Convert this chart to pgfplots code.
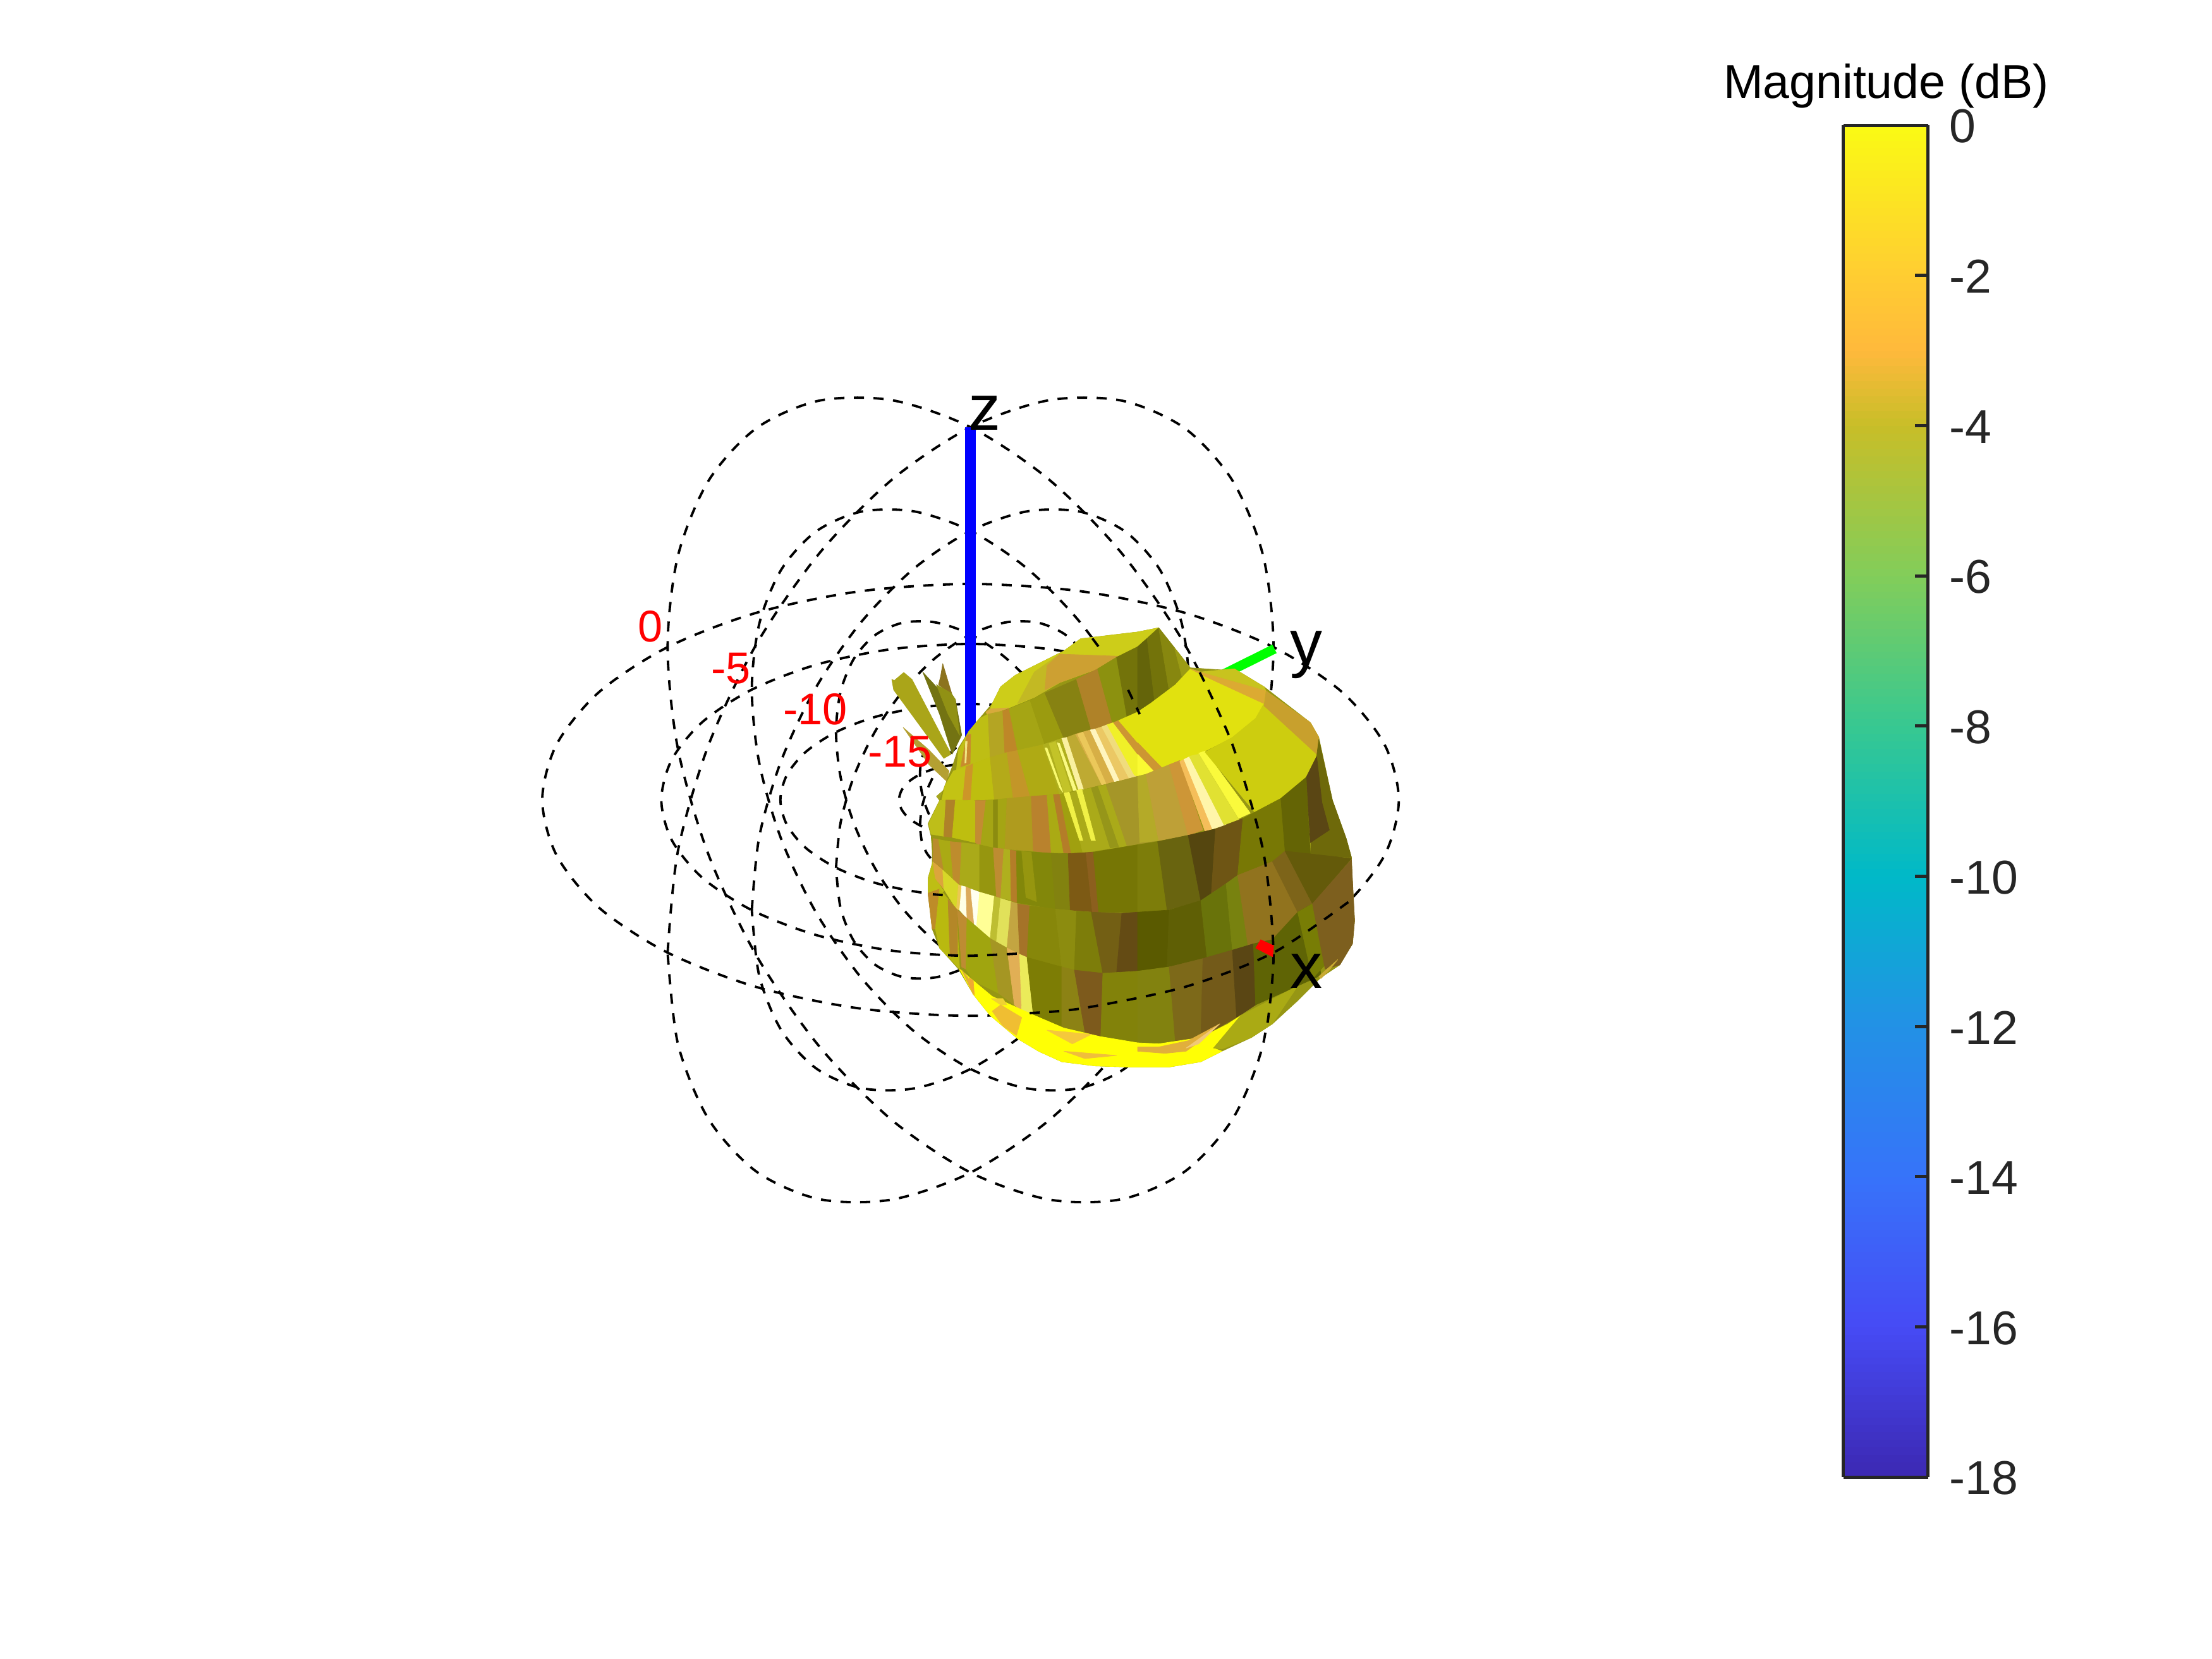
\documentclass[border=0pt]{standalone}
\usepackage{pgfplots}
\usepackage{pgfplotstable}
\usepackage{fontspec}
\setmainfont{Liberation Sans}
\pgfplotsset{compat=1.18}
\definecolor{tickc}{RGB}{38,38,38}
\newcommand{\pq}[4]{\addplot[fill={rgb,255:red,#1;green,#2;blue,#3},draw={rgb,255:red,#1;green,#2;blue,#3},line width=0.2pt,line join=round] coordinates {#4} -- cycle;}
\pgfplotstableread{
x y
1438 725
1762 513
1964 265
2033 0
1964 -265
1762 -513
1438 -725
1017 -888
526 -990
0 -1025
-526 -990
-1017 -888
-1438 -725
-1762 -513
-1964 -265
-2033 0
-1964 265
-1762 513
-1438 725
-1017 888
-526 990
0 1025
526 990
1017 888
1438 725
}\ringA
\pgfplotstableread{
x y
1438 725
1389 242
1245 -257
1017 -738
719 -1169
372 -1521
0 -1769
-372 -1897
-719 -1895
-1017 -1764
-1245 -1513
-1389 -1158
-1438 -725
-1389 -242
-1245 257
-1017 738
-719 1169
-372 1521
0 1769
372 1897
719 1895
1017 1764
1245 1513
1389 1158
1438 725
}\ringB
\tikzset{ring/.style={black,line width=0.38mm,dash pattern=on 1.6mm off 1.5mm,smooth}}
\newcommand{\rings}[1]{%
\addplot[ring] table[x expr=\thisrow{x}*#1+257,y expr=\thisrow{y}*#1+857]{\ringA};
\addplot[ring] table[x expr=\thisrow{x}*#1+257,y expr=\thisrow{y}*#1+857]{\ringB};
\addplot[ring] table[x expr=-\thisrow{x}*#1+257,y expr=\thisrow{y}*#1+857]{\ringB};
}
\begin{document}
\begin{tikzpicture}
\path[use as bounding box] (0,0) rectangle (35cm,26.25cm);
\begin{axis}[
  at={(0,0)},anchor=south west,
  scale only axis,width=35cm,height=26.25cm,
  hide axis,clip=false,
  xmin=-4350,xmax=6150,ymin=-2940,ymax=4935,
  y dir=reverse,
  enlargelimits=false,
  point meta min=-18,point meta max=0,
  colormap={mag}{rgb255(0pt)=(60,40,178) rgb255(2pt)=(70,75,245) rgb255(4pt)=(55,115,250) rgb255(6pt)=(35,145,230) rgb255(8pt)=(0,185,200) rgb255(10pt)=(55,200,145) rgb255(12pt)=(130,205,90) rgb255(14pt)=(200,190,40) rgb255(15pt)=(255,185,60) rgb255(16pt)=(255,205,50) rgb255(18pt)=(250,250,20)},
  colorbar sampled,
  colorbar style={
    samples=181,
    axis on top=true,
    at={(0.8334,0.1097)},anchor=south west,
    width=13.4mm,height=213.9mm,
    ytick={-18,-16,-14,-12,-10,-8,-6,-4,-2,0},
    yticklabels={-18,-16,-14,-12,-10,-8,-6,-4,-2,0},
    ytick pos=right,yticklabel pos=right,
    tick align=inside,
    major tick length=2.1mm,
    tick style={draw=tickc,line width=0.5mm},
    axis line style={draw=tickc,line width=0.5mm},
    yticklabel style={font=\fontsize{21.4}{24}\selectfont,text=tickc,xshift=2.1mm,yshift=-0.2mm},
  },
]
% graticule
\rings{1}
\rings{0.722}
\rings{0.444}
\rings{0.167}
% axes
\addplot[blue,line width=1.67mm] coordinates {(257,857) (257,-912)};
\addplot[green,line width=1.5mm] coordinates {(257,857) (1700,140)};
% side lobes
\pq{170}{165}{25}{(-117,285)(-105,290)(-60,252)(-21,285)(165,640)(130,660)(-108,335)}
\pq{140}{115}{30}{(125,210)(170,360)(105,310)(115,270)}
\pq{115}{115}{18}{(30,250)(95,320)(185,380)(215,550)(170,640)(110,450)}
\pq{145}{145}{20}{(95,310)(165,350)(185,380)(205,550)(150,450)}
\pq{180}{160}{50}{(-63,513)(60,620)(155,720)(145,770)(60,690)}
\pq{165}{165}{30}{(95,840)(130,810)(110,860)}
% backing
\pq{150}{150}{20}{(780,92)(1050,60)(1150,40)(1300,230)(1450,240)(1510,235)(1650,320)(1870,490)(1910,560)(1975,860)(2040,1040)(2065,1130)(2070,1250)(2080,1430)(2070,1540)(2010,1640)(1920,1700)(1810,1810)(1690,1920)(1590,1985)(1450,2050)(1350,2100)(1200,2125)(1000,2125)(850,2120)(690,2100)(580,2050)(480,1990)(350,1880)(270,1780)(200,1660)(110,1560)(75,1470)(55,1300)(55,1230)(75,1160)(75,1100)(70,1030)(55,970)(110,860)(135,790)(170,700)(200,610)(250,530)(300,470)(360,400)(400,320)(470,265)(700,150)}
% top face
\pq{205}{205}{25}{(400,320)(470,265)(700,150)(780,92)(1050,60)(1150,40)(1050,130)(960,175)(860,235)(680,300)(560,370)(440,420)(350,425)(360,400)}
\pq{195}{185}{35}{(560,250)(680,165)(680,300)(560,370)(480,400)}
\pq{205}{160}{50}{(680,165)(960,175)(860,235)(680,300)(610,335)(620,220)}
\pq{215}{170}{60}{(330,440)(350,425)(440,420)(400,435)(340,460)}
% wall of crown
\pq{190}{190}{20}{(200,620)(250,530)(300,470)(340,450)(350,655)(270,685)(190,715)}
\pq{200}{140}{45}{(240,550)(258,545)(255,685)(210,700)}
\pq{240}{230}{130}{(233,580)(241,578)(236,680)(230,682)}
\pq{180}{165}{35}{(340,450)(410,435)(420,640)(350,655)}
\pq{190}{135}{40}{(410,435)(440,425)(480,620)(420,640)}
\pq{165}{165}{20}{(440,425)(540,385)(610,595)(480,622)}
\pq{155}{155}{15}{(540,385)(610,350)(700,565)(610,595)}
\pq{135}{130}{18}{(610,350)(760,285)(830,525)(700,565)}
\pq{175}{130}{40}{(760,285)(860,235)(930,490)(830,525)}
\pq{140}{145}{15}{(860,235)(950,180)(1000,465)(930,490)}
\pq{115}{115}{10}{(950,180)(1050,130)(1050,440)(1000,465)}
\pq{100}{100}{10}{(1050,130)(1095,90)(1130,385)(1050,440)}
\pq{115}{115}{10}{(1095,90)(1150,40)(1200,340)(1130,385)}
\pq{135}{135}{15}{(1150,40)(1225,135)(1260,270)(1200,340)}
\pq{155}{155}{20}{(1225,135)(1300,230)(1260,270)}
% band 2
\pq{195}{195}{20}{(135,790)(175,720)(265,690)(258,858)(120,858)}
\pq{205}{150}{40}{(235,700)(270,685)(258,858)(220,858)}
\pq{190}{190}{15}{(270,685)(350,655)(370,855)(258,858)}
\pq{180}{170}{25}{(350,655)(430,632)(460,850)(370,855)}
\pq{195}{150}{40}{(430,632)(480,622)(540,840)(460,850)}
\pq{175}{170}{20}{(480,622)(600,595)(680,828)(540,840)}
\pq{175}{175}{30}{(600,595)(690,565)(790,805)(680,828)}
\pq{250}{250}{110}{(610,610)(620,610)(695,820)(680,800)}
\pq{195}{195}{40}{(630,590)(660,580)(735,815)(700,822)}
\pq{250}{250}{130}{(668,585)(680,590)(760,810)(745,812)}
\pq{250}{240}{160}{(690,565)(715,560)(795,805)(770,810)}
\pq{190}{170}{50}{(715,560)(755,545)(880,785)(795,805)}
\pq{215}{175}{70}{(755,545)(825,525)(940,770)(880,785)}
\pq{235}{200}{90}{(765,545)(790,535)(900,780)(880,785)}
\pq{255}{245}{190}{(825,525)(850,520)(965,765)(940,770)}
\pq{235}{200}{100}{(850,520)(880,510)(1010,755)(965,765)}
\pq{240}{220}{125}{(880,510)(905,500)(1050,745)(1010,755)}
\pq{240}{240}{40}{(905,500)(935,490)(1050,620)(1050,745)(1035,740)}
\pq{205}{150}{50}{(935,490)(960,480)(1050,570)(1050,640)}
\pq{225}{225}{15}{(960,480)(1050,440)(1110,400)(1230,310)(1300,235)(1345,250)(1650,400)(1610,470)(1500,560)(1360,630)(1180,700)(1170,710)(1050,585)}
\pq{205}{150}{50}{(1050,585)(1170,710)(1130,725)(1050,640)}
\pq{250}{250}{50}{(1050,640)(1130,725)(1050,745)}
\pq{200}{195}{30}{(1345,250)(1450,240)(1510,235)(1650,320)(1660,340)}
\pq{220}{170}{50}{(1300,235)(1345,250)(1660,340)(1650,400)(1390,280)}
% band 3
\pq{190}{190}{25}{(110,860)(140,858)(130,1030)(70,1020)(58,970)}
\pq{175}{130}{40}{(140,858)(185,858)(170,1035)(130,1030)}
\pq{190}{190}{15}{(185,858)(280,860)(280,1060)(170,1035)}
\pq{195}{140}{50}{(280,860)(330,860)(305,1075)(280,1060)}
\pq{165}{165}{20}{(330,860)(430,850)(420,1090)(305,1075)}
\pq{140}{140}{15}{(365,858)(385,856)(385,1085)(365,1082)}
\pq{175}{155}{30}{(430,850)(545,840)(555,1100)(420,1090)}
\pq{185}{130}{45}{(545,840)(620,835)(640,1110)(555,1100)}
\pq{170}{170}{20}{(620,835)(650,832)(700,1112)(640,1110)}
\pq{180}{125}{40}{(650,832)(680,830)(735,1110)(700,1112)}
\pq{160}{160}{15}{(680,830)(720,825)(790,1108)(735,1110)}
\pq{170}{170}{25}{(720,825)(900,785)(1000,1075)(790,1108)}
\pq{150}{150}{25}{(830,800)(860,792)(960,1080)(920,1085)}
\pq{165}{150}{40}{(900,785)(1050,745)(1150,1050)(1000,1075)}
\pq{240}{240}{70}{(700,825)(725,820)(790,1050)(775,1050)}
\pq{240}{240}{70}{(760,812)(785,805)(850,1050)(830,1050)}
\pq{180}{170}{40}{(1050,745)(1090,735)(1150,1050)(1060,1060)}
\pq{190}{160}{55}{(1090,735)(1200,690)(1290,1025)(1150,1050)}
\pq{205}{150}{55}{(1200,690)(1250,670)(1360,1000)(1290,1025)}
\pq{245}{190}{90}{(1250,675)(1290,655)(1420,990)(1370,1005)}
\pq{255}{245}{170}{(1270,665)(1300,650)(1470,975)(1405,995)}
\pq{225}{225}{50}{(1295,650)(1340,640)(1530,950)(1460,975)}
\pq{250}{250}{60}{(1340,635)(1370,625)(1585,920)(1530,945)}
\pq{205}{205}{15}{(1370,630)(1500,560)(1610,470)(1650,400)(1660,340)(1870,490)(1910,560)(1900,650)(1850,750)(1730,850)(1610,920)}
\pq{200}{160}{45}{(1660,340)(1870,490)(1910,560)(1900,640)(1650,410)}
% band 4
\pq{110}{105}{10}{(1900,650)(1910,570)(1975,860)(2040,1040)(2065,1130)(1870,1120)}
\pq{90}{70}{20}{(1850,750)(1900,650)(1925,870)(1960,1000)(1870,1060)}
\pq{185}{140}{45}{(80,1040)(105,1045)(130,1190)(78,1145)}
\pq{170}{170}{20}{(105,1045)(160,1055)(175,1235)(130,1190)}
\pq{190}{140}{45}{(160,1055)(215,1060)(205,1265)(175,1235)}
\pq{170}{170}{25}{(215,1060)(300,1070)(300,1290)(205,1265)}
\pq{150}{150}{15}{(300,1070)(365,1085)(395,1320)(300,1290)}
\pq{190}{140}{50}{(365,1085)(415,1090)(400,1322)(380,1318)}
\pq{175}{175}{30}{(415,1090)(445,1095)(475,1340)(400,1322)}
\pq{180}{125}{40}{(445,1095)(475,1100)(478,1345)(450,1335)}
\pq{130}{135}{10}{(475,1100)(640,1110)(660,1375)(478,1345)}
\pq{150}{150}{15}{(500,1102)(545,1105)(570,1340)(520,1320)}
\pq{130}{130}{15}{(640,1110)(720,1112)(730,1380)(660,1375)}
\pq{125}{90}{20}{(720,1112)(840,1105)(865,1390)(730,1380)}
\pq{140}{95}{30}{(805,1110)(840,1105)(865,1390)(835,1390)}
\pq{118}{118}{5}{(840,1105)(1050,1070)(1050,1390)(865,1390)}
\pq{125}{125}{10}{(1050,1070)(1145,1055)(1190,1380)(1050,1390)}
\pq{105}{100}{15}{(1145,1055)(1290,1025)(1350,1335)(1190,1380)}
\pq{85}{70}{15}{(1290,1025)(1420,995)(1400,1300)(1350,1335)}
\pq{110}{85}{20}{(1420,995)(1550,945)(1525,1215)(1400,1300)}
\pq{120}{120}{5}{(1550,945)(1730,850)(1750,1100)(1690,1150)(1525,1215)}
\pq{100}{100}{5}{(1730,850)(1850,750)(1870,1125)(1750,1100)}
% band 5
\pq{190}{190}{20}{(55,1300)(55,1230)(78,1150)(90,1230)(130,1290)(110,1300)}
\pq{220}{165}{60}{(78,1150)(125,1190)(130,1280)(90,1230)}
\pq{215}{215}{40}{(125,1190)(200,1260)(190,1375)(130,1280)}
\pq{235}{200}{80}{(200,1260)(215,1265)(205,1380)(190,1375)}
\pq{255}{255}{230}{(215,1265)(235,1270)(240,1420)(205,1380)}
\pq{220}{170}{90}{(235,1270)(258,1280)(275,1450)(240,1420)}
\pq{255}{255}{240}{(258,1280)(300,1295)(285,1465)(275,1450)}
\pq{255}{255}{150}{(300,1295)(370,1315)(350,1515)(285,1465)}
\pq{190}{190}{50}{(370,1315)(400,1325)(380,1530)(350,1515)}
\pq{225}{225}{90}{(400,1325)(450,1340)(430,1560)(380,1530)}
\pq{195}{165}{65}{(450,1340)(480,1350)(490,1590)(430,1560)}
\pq{165}{115}{40}{(480,1350)(538,1360)(525,1605)(490,1590)}
\pq{135}{135}{10}{(538,1360)(660,1375)(690,1650)(525,1605)}
\pq{140}{140}{15}{(660,1375)(760,1385)(750,1665)(690,1650)}
\pq{125}{125}{10}{(760,1385)(830,1390)(885,1680)(750,1665)}
\pq{115}{95}{20}{(830,1390)(975,1395)(950,1678)(885,1680)}
\pq{100}{75}{20}{(975,1395)(1050,1390)(1050,1670)(950,1678)}
\pq{90}{90}{0}{(1050,1390)(1200,1380)(1190,1650)(1050,1670)}
\pq{95}{95}{5}{(1200,1380)(1350,1335)(1380,1610)(1190,1650)}
\pq{105}{115}{10}{(1350,1335)(1470,1255)(1500,1570)(1380,1610)}
\pq{120}{130}{15}{(1470,1255)(1525,1215)(1575,1555)(1500,1570)}
\pq{145}{115}{30}{(1525,1215)(1690,1150)(1810,1390)(1690,1520)(1575,1555)}
\pq{125}{100}{25}{(1690,1150)(1750,1100)(1880,1350)(1810,1390)}
\pq{100}{90}{10}{(1750,1100)(2065,1135)(1880,1350)}
% band 6
\pq{190}{140}{40}{(55,1300)(110,1280)(90,1470)(75,1470)}
\pq{185}{185}{15}{(110,1280)(190,1375)(205,1660)(110,1560)(90,1470)}
\pq{180}{135}{40}{(150,1330)(195,1380)(195,1600)(160,1600)}
\pq{190}{140}{50}{(195,1380)(240,1420)(235,1660)(215,1650)}
\pq{160}{165}{15}{(240,1420)(350,1515)(390,1775)(270,1715)(235,1660)}
\pq{165}{150}{35}{(350,1515)(430,1560)(465,1830)(390,1775)}
\pq{225}{175}{85}{(430,1560)(490,1590)(500,1860)(465,1830)}
\pq{235}{235}{90}{(490,1590)(525,1605)(555,1880)(500,1860)}
\pq{125}{125}{5}{(525,1605)(690,1650)(690,1935)(555,1880)}
\pq{140}{130}{20}{(690,1650)(750,1665)(800,1960)(690,1935)}
\pq{125}{90}{28}{(750,1665)(885,1680)(875,1980)(800,1960)}
\pq{130}{130}{10}{(885,1680)(1050,1670)(1050,2010)(875,1980)}
\pq{130}{130}{15}{(1050,1670)(1200,1650)(1230,2012)(1050,2010)}
\pq{125}{105}{25}{(1200,1650)(1360,1610)(1350,1985)(1230,2012)}
\pq{115}{90}{25}{(1360,1610)(1500,1570)(1520,1890)(1350,1985)}
\pq{90}{70}{20}{(1500,1570)(1600,1540)(1610,1830)(1520,1890)}
\pq{95}{100}{5}{(1600,1540)(1690,1520)(1810,1390)(1880,1350)(1920,1690)(1810,1740)(1610,1830)}
\pq{120}{125}{5}{(1810,1390)(1880,1350)(1940,1640)(1880,1705)}
\pq{125}{95}{30}{(1880,1350)(2065,1140)(2080,1430)(2070,1540)(2010,1640)(1940,1660)}
% band 7
\pq{255}{255}{5}{(205,1660)(270,1715)(360,1790)(560,1880)(700,1940)(870,1980)(1050,2010)(1150,2015)(1350,1985)(1480,1920)(1540,1880)(1410,2035)(1450,2050)(1350,2100)(1200,2125)(1000,2125)(850,2120)(690,2100)(580,2050)(480,1990)(350,1880)(270,1780)}
\pq{225}{180}{50}{(215,1665)(245,1700)(270,1780)}
\pq{240}{170}{50}{(250,1700)(270,1715)(275,1785)(250,1730)}
\pq{240}{210}{50}{(355,1800)(410,1800)(430,1830)(400,1830)}
\pq{240}{190}{50}{(400,1830)(500,1890)(475,1975)(410,1930)(360,1860)}
\pq{245}{200}{60}{(620,1950)(830,1970)(740,2015)}
\pq{240}{190}{60}{(700,2050)(950,2070)(800,2085)}
\pq{225}{175}{60}{(1050,2030)(1150,2030)(1290,2000)(1440,1920)(1350,2000)(1280,2050)(1180,2060)(1050,2050)}
\pq{240}{200}{120}{(1280,2035)(1350,1985)(1440,1920)(1340,2015)}
\pq{170}{170}{20}{(1410,2035)(1540,1880)(1810,1740)(1690,1920)(1590,1985)(1450,2040)}
\pq{200}{170}{50}{(1910,1695)(2000,1615)(1960,1665)(1920,1705)}
% graticule over the lobe
\addplot[ring] coordinates {(1345,252)(1502,600)(1646,1099)(1695,1582)(1665,1930)};
\addplot[ring] coordinates {(2050,1342)(1695,1582)(1274,1745)(783,1847)(510,1870)};
\addplot[ring] coordinates {(1005,335)(1060,450)};
\addplot[ring] coordinates {(150,1594)(257,1597)(480,1587)};
\addplot[ring] coordinates {(78,1305)(125,1309)};
\addplot[ring] coordinates {(835,90)(865,130)};
% x axis tip
\addplot[fill=red,draw=red] coordinates {(1635,1522)(1695,1550)(1690,1600)(1612,1560)} -- cycle;
% texts
\node[text=red,font=\fontsize{20}{24}\selectfont] at (axis cs:-1263,33) {0};
\node[text=red,font=\fontsize{20}{24}\selectfont] at (axis cs:-881,234) {-5};
\node[text=red,font=\fontsize{20}{24}\selectfont] at (axis cs:-480,428) {-10};
\node[text=red,font=\fontsize{20}{24}\selectfont] at (axis cs:-78,629) {-15};
\node[font=\fontsize{29}{34}\selectfont] at (axis cs:324,-978) {z};
\node[font=\fontsize{29}{34}\selectfont] at (axis cs:1851,167) {y};
\node[font=\fontsize{29}{34}\selectfont] at (axis cs:1851,1670) {x};
\node[font=\fontsize{21.4}{24}\selectfont] at (axis cs:4603,-2532) {Magnitude (dB)};
\end{axis}
\end{tikzpicture}
\end{document}
